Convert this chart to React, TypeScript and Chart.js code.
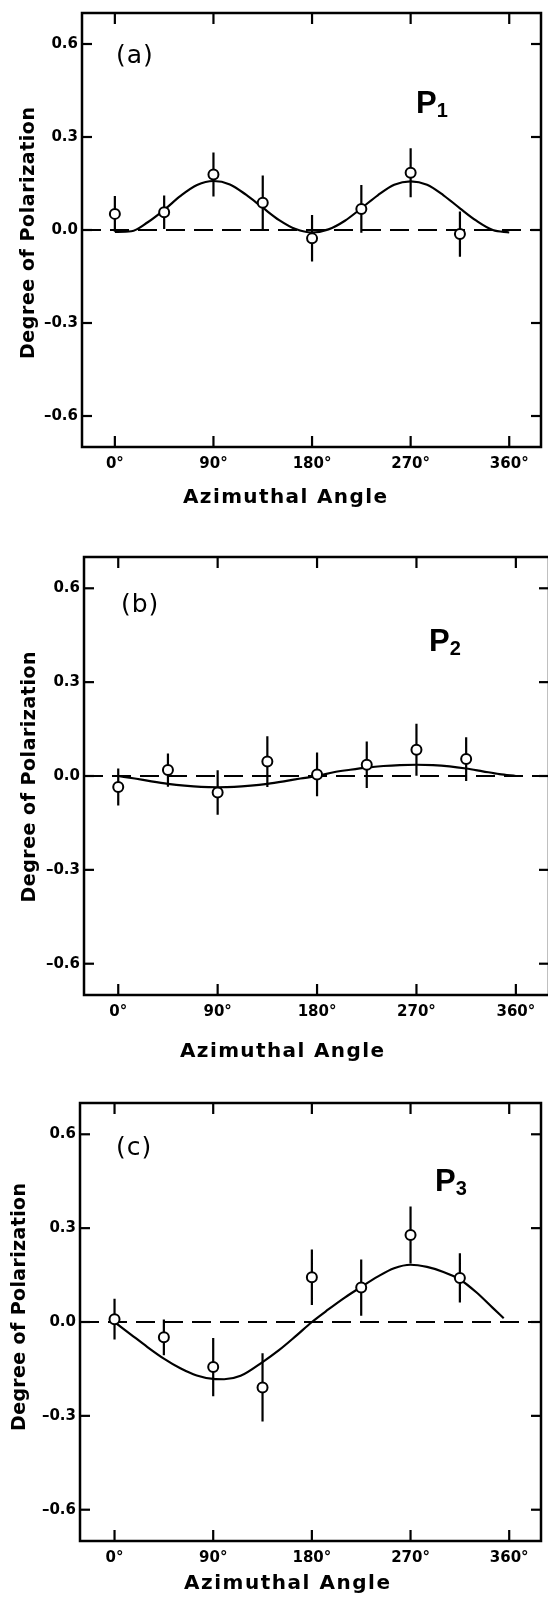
import React, { useEffect, useRef } from "react";
import { Chart, registerables } from "chart.js";

Chart.register(...registerables);

// ---------- data ----------
const angles = [0, 45, 90, 135, 180, 225, 270, 315];
const xTickValues = [0, 90, 180, 270, 360];
const xTickLabels = ["0°", "90°", "180°", "270°", "360°"];
const yTickValues = [-0.6, -0.3, 0, 0.3, 0.6];
const yTickLabels = ["–0.6", "–0.3", "0.0", "0.3", "0.6"];

const p1Values = [0.052, 0.057, 0.179, 0.088, -0.027, 0.068, 0.185, -0.013];
const p1Errors = [0.058, 0.054, 0.071, 0.088, 0.075, 0.077, 0.079, 0.073];
const p2Values = [-0.035, 0.019, -0.053, 0.046, 0.005, 0.036, 0.084, 0.054];
const p2Errors = [0.059, 0.053, 0.071, 0.081, 0.07, 0.074, 0.083, 0.07];
const p3Values = [0.009, -0.049, -0.144, -0.209, 0.143, 0.11, 0.278, 0.141];
const p3Errors = [0.065, 0.057, 0.093, 0.109, 0.089, 0.09, 0.091, 0.079];

const fitAngles1 = [0, 15, 30, 45, 60, 75, 90, 105, 120, 135, 150, 165, 180, 195, 210, 225, 240, 255, 270, 285, 300, 315, 330, 345, 360];
const fitP1 = [-0.006, -0.004, 0.025, 0.065, 0.11, 0.145, 0.158, 0.147, 0.113, 0.072, 0.032, 0.003, -0.008, 0.002, 0.03, 0.07, 0.112, 0.146, 0.157, 0.146, 0.112, 0.07, 0.03, 0.0, -0.008];
const fitAngles2 = [0, 15, 30, 45, 60, 75, 90, 105, 120, 135, 150, 165, 180, 195, 210, 225, 240, 255, 270, 285, 300, 315, 330, 345, 360];
const fitP2 = [0, -0.008, -0.017, -0.025, -0.031, -0.035, -0.036, -0.035, -0.031, -0.025, -0.017, -0.008, 0, 0.012, 0.02, 0.027, 0.032, 0.035, 0.036, 0.035, 0.031, 0.024, 0.015, 0.006, 0];
const fitAngles3 = [0, 15, 30, 45, 60, 75, 90, 100, 115, 135, 150, 165, 180, 195, 210, 225, 240, 255, 270, 285, 300, 315, 330, 345, 355];
const fitP3 = [0, -0.04, -0.08, -0.117, -0.148, -0.171, -0.182, -0.183, -0.172, -0.128, -0.09, -0.046, 0, 0.04, 0.078, 0.112, 0.145, 0.172, 0.183, 0.176, 0.16, 0.136, 0.095, 0.045, 0.012];

// ---------- layout ----------
const FONT = "'DejaVu Sans', 'Liberation Sans', sans-serif";
const P_FONT = "'Liberation Sans', 'DejaVu Sans', sans-serif";
const X_AXIS_H = 40;

type Panel = {
  letter: string;
  sub: string;
  values: number[];
  errors: number[];
  fitX: number[];
  fitY: number[];
  top: number;
  w: number;
  h: number;
  area: { left: number; right: number; top: number; bottom: number };
  xMin: number;
  xMax: number;
  yTitle: { x: number; y: number; len: number };
  xTitle: { x: number; y: number; len: number };
  letterPos: { x: number; y: number };
  pPos: { x: number; y: number };
};

const panels: Panel[] = [
  {
    letter: "(a)", sub: "1", values: p1Values, errors: p1Errors, fitX: fitAngles1, fitY: fitP1,
    top: 0, w: 548, h: 520,
    area: { left: 82, right: 547, top: 7, bottom: 447 },
    xMin: -30, xMax: 389,
    yTitle: { x: 29, y: 233, len: 252 },
    xTitle: { x: 285, y: 498, len: 204 },
    letterPos: { x: 116, y: 63 },
    pPos: { x: 416, y: 113 },
  },
  {
    letter: "(b)", sub: "2", values: p2Values, errors: p2Errors, fitX: fitAngles2, fitY: fitP2,
    top: 530, w: 556, h: 540,
    area: { left: 84, right: 552, top: 27, bottom: 465 },
    xMin: -31, xMax: 390,
    yTitle: { x: 30, y: 247, len: 251 },
    xTitle: { x: 282, y: 522, len: 204 },
    letterPos: { x: 121, y: 82 },
    pPos: { x: 429, y: 121 },
  },
  {
    letter: "(c)", sub: "3", values: p3Values, errors: p3Errors, fitX: fitAngles3, fitY: fitP3,
    top: 1075, w: 548, h: 522,
    area: { left: 80, right: 547, top: 28, bottom: 466 },
    xMin: -31.5, xMax: 389,
    yTitle: { x: 20, y: 232, len: 248 },
    xTitle: { x: 287, y: 509, len: 206 },
    letterPos: { x: 116, y: 80 },
    pPos: { x: 435, y: 116 },
  },
];

function drawSpaced(ctx: CanvasRenderingContext2D, text: string, cx: number, cy: number, len: number, font: string, rot: number) {
  ctx.save();
  ctx.font = font;
  (ctx as any).letterSpacing = "0px";
  const w = ctx.measureText(text).width;
  const sp = (len - w) / (text.length - 1);
  (ctx as any).letterSpacing = sp + "px";
  ctx.translate(cx, cy);
  ctx.rotate(rot);
  ctx.textAlign = "left";
  ctx.textBaseline = "middle";
  ctx.fillStyle = "#000";
  ctx.fillText(text, -len / 2, 0);
  ctx.restore();
}

function makeChart(canvas: HTMLCanvasElement, p: Panel) {
  const errData: { x: number; y: number | null }[] = [];
  angles.forEach((a, i) => {
    errData.push({ x: a, y: p.values[i] - p.errors[i] });
    errData.push({ x: a, y: p.values[i] + p.errors[i] });
    errData.push({ x: a, y: null });
  });

  const framePlugin = {
    id: "frame",
    afterDraw(chart: any) {
      const { ctx, chartArea, scales } = chart;
      const { left, right, top, bottom } = chartArea;
      ctx.save();
      ctx.strokeStyle = "#000";
      ctx.lineWidth = 2.5;
      ctx.strokeRect(left, top, right - left, bottom - top);
      const seg = (x1: number, y1: number, x2: number, y2: number) => {
        ctx.beginPath();
        ctx.moveTo(x1, y1);
        ctx.lineTo(x2, y2);
        ctx.stroke();
      };
      ctx.lineWidth = 2.2;
      xTickValues.forEach((v) => {
        const px = scales.x.getPixelForValue(v);
        seg(px, bottom, px, bottom - 11);
        seg(px, top, px, top + 11);
      });
      yTickValues.forEach((v) => {
        const py = scales.y.getPixelForValue(v);
        seg(left, py, left + 10, py);
        seg(right, py, right - 10, py);
      });
      ctx.restore();
    },
  };

  const textPlugin = {
    id: "texts",
    afterDraw(chart: any) {
      const ctx: CanvasRenderingContext2D = chart.ctx;
      drawSpaced(ctx, "Degree of Polarization", p.yTitle.x, p.yTitle.y, p.yTitle.len, `bold 19px ${FONT}`, -Math.PI / 2);
      drawSpaced(ctx, "Azimuthal Angle", p.xTitle.x, p.xTitle.y, p.xTitle.len, `bold 20px ${FONT}`, 0);
      ctx.save();
      ctx.fillStyle = "#000";
      ctx.textAlign = "left";
      ctx.textBaseline = "alphabetic";
      ctx.font = `25px ${FONT}`;
      (ctx as any).letterSpacing = "1px";
      ctx.fillText(p.letter, p.letterPos.x, p.letterPos.y);
      (ctx as any).letterSpacing = "0px";
      ctx.font = `bold 31px ${P_FONT}`;
      ctx.fillText("P", p.pPos.x, p.pPos.y);
      const pw = ctx.measureText("P").width;
      ctx.font = `bold 20px ${P_FONT}`;
      ctx.fillText(p.sub, p.pPos.x + pw, p.pPos.y + 4);
      ctx.restore();
    },
  };

  return new Chart(canvas, {
    type: "scatter",
    data: {
      datasets: [
        {
          label: "measured",
          data: angles.map((a, i) => ({ x: a, y: p.values[i] })),
          pointRadius: 5,
          pointBorderWidth: 2,
          pointBackgroundColor: "#fff",
          pointBorderColor: "#000",
          showLine: false,
          order: 0,
        },
        {
          label: "errors",
          data: errData as any,
          showLine: true,
          spanGaps: false,
          borderColor: "#000",
          borderWidth: 2.2,
          pointRadius: 0,
          order: 1,
        },
        {
          label: "fit",
          data: p.fitX.map((x, i) => ({ x, y: p.fitY[i] })),
          showLine: true,
          borderColor: "#000",
          borderWidth: 2.2,
          pointRadius: 0,
          cubicInterpolationMode: "monotone",
          order: 2,
        },
        {
          label: "zero",
          data: [
            { x: p.xMin, y: 0 },
            { x: p.xMax, y: 0 },
          ],
          showLine: true,
          borderColor: "#000",
          borderWidth: 2,
          borderDash: [19, 9],
          pointRadius: 0,
          order: 3,
        },
      ],
    },
    options: {
      animation: false,
      responsive: false,
      devicePixelRatio: 1,
      layout: {
        padding: {
          left: 0,
          top: p.area.top,
          right: p.w - p.area.right,
          bottom: p.h - p.area.bottom - X_AXIS_H,
        },
      },
      plugins: { legend: { display: false }, tooltip: { enabled: false } },
      scales: {
        x: {
          type: "linear",
          min: p.xMin,
          max: p.xMax,
          afterBuildTicks: (s: any) => {
            s.ticks = xTickValues.map((v) => ({ value: v }));
          },
          afterFit: (s: any) => {
            s.height = X_AXIS_H;
          },
          ticks: {
            callback: (_v: any, i: number) => xTickLabels[i],
            font: { family: FONT, size: 15, weight: "bold" },
            color: "#000",
            padding: 8,
            maxRotation: 0,
            autoSkip: false,
          },
          grid: { display: false, drawTicks: false },
          border: { display: false },
        },
        y: {
          type: "linear",
          min: -0.7,
          max: 0.7,
          afterBuildTicks: (s: any) => {
            s.ticks = yTickValues.map((v) => ({ value: v }));
          },
          afterFit: (s: any) => {
            s.width = p.area.left;
          },
          ticks: {
            callback: (_v: any, i: number) => yTickLabels[i],
            font: { family: FONT, size: 15, weight: "bold" },
            color: "#000",
            padding: 4,
            autoSkip: false,
          },
          grid: { display: false, drawTicks: false },
          border: { display: false },
        },
      },
    } as any,
    plugins: [framePlugin, textPlugin],
  });
}

function PanelChart({ p }: { p: Panel }) {
  const ref = useRef<HTMLCanvasElement | null>(null);
  useEffect(() => {
    if (!ref.current) return;
    const chart = makeChart(ref.current, p);
    return () => chart.destroy();
  }, [p]);
  return (
    <div style={{ position: "absolute", left: 0, top: p.top, width: p.w, height: p.h }}>
      <canvas ref={ref} width={p.w} height={p.h} style={{ display: "block", width: p.w, height: p.h }} />
    </div>
  );
}

export default function App() {
  return (
    <div
      style={{
        position: "absolute",
        left: 0,
        top: 0,
        width: 548,
        height: 1597,
        overflow: "hidden",
        background: "#fff",
      }}
    >
      {panels.map((p) => (
        <PanelChart key={p.letter} p={p} />
      ))}
    </div>
  );
}
